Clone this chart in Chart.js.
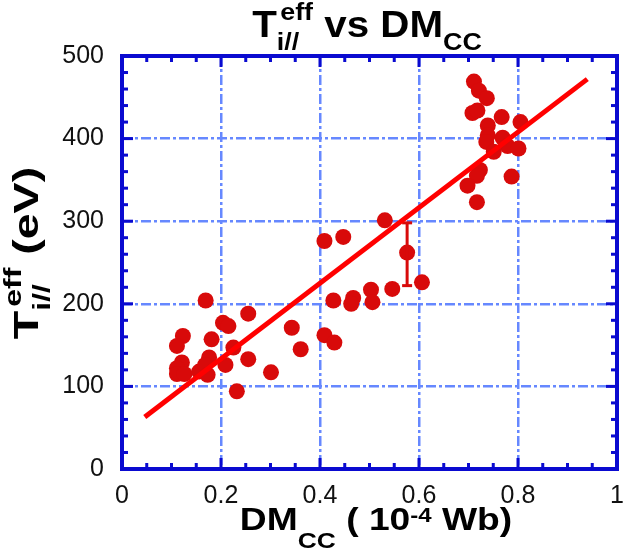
<!DOCTYPE html>
<html>
<head>
<meta charset="utf-8">
<script src="https://cdn.jsdelivr.net/npm/chart.js@4.4.0/dist/chart.umd.min.js"></script>
<style>
  html, body { margin: 0; padding: 0; background: #fff; }
</style>
</head>
<body>
<canvas id="chart" width="625" height="557"></canvas>
<script>
// measured points: DMcc (1e-4 Wb) and Ti// eff (eV)
var dmcc = [
  0.169, 0.255, 0.204, 0.215, 0.123, 0.181, 0.111, 0.343, 0.361, 0.225, 0.255,
  0.301, 0.232, 0.209, 0.176, 0.121, 0.111, 0.111, 0.126, 0.156, 0.168, 0.173,
  0.409, 0.447, 0.531, 0.576, 0.606, 0.546, 0.503, 0.506, 0.467, 0.463, 0.427,
  0.409, 0.429,
  0.711, 0.721, 0.737, 0.708, 0.718, 0.767, 0.739, 0.805, 0.739, 0.736, 0.769,
  0.779, 0.801, 0.751, 0.723, 0.717, 0.698, 0.787, 0.717
];
var tiEff = [
  204, 188, 177, 173, 161, 157, 149, 171, 145, 147, 133,
  117, 94, 126, 135, 129, 122, 115, 115, 118, 126, 114,
  276, 281, 301, 262, 226, 218, 217, 202, 207, 200, 204,
  162, 153,
  469, 458, 449, 431, 434, 426, 416, 420, 404, 396, 401,
  391, 388, 384, 362, 355, 343, 354, 323
];
// linear fit end points
var fitX = [0.046, 0.94];
var fitY = [63, 472];
// single error bar
var errX = [0.576, 0.576];
var errY = [222, 298];

var xTickLabels = ['0', '0.2', '0.4', '0.6', '0.8', '1'];
var yTickLabels = ['0', '100', '200', '300', '400', '500'];

var FONT = "'Liberation Sans', Arial, sans-serif";
var RED = '#d80a0a';
var FRAME = '#0a0ad0';
var GRID = '#6688ff';

function pts(xs, ys) {
  return xs.map(function (x, i) { return { x: x, y: ys[i] }; });
}

// rich text with sub/superscripts, centred on (0,0) of the current transform
function drawRich(ctx, segs) {
  var x = 0, items = [], prevStart = 0;
  segs.forEach(function (s) {
    ctx.font = 'bold ' + s.size + 'px ' + FONT;
    var w = ctx.measureText(s.t).width;
    var sx;
    if (s.stack) {
      sx = prevStart + (s.shift || 0);
      x = Math.max(x, sx + w);
    } else {
      sx = x;
      x += w;
    }
    items.push({ s: s, x: sx });
    prevStart = sx;
  });
  ctx.fillStyle = '#000';
  ctx.textAlign = 'left';
  ctx.textBaseline = 'alphabetic';
  items.forEach(function (it) {
    ctx.font = 'bold ' + it.s.size + 'px ' + FONT;
    ctx.fillText(it.s.t, it.x - x / 2, it.s.dy || 0);
  });
}

function drawFrame(chart) {
  var ctx = chart.ctx;
  var xs = chart.scales.x, ys = chart.scales.y;
  var left = xs.getPixelForValue(0), right = xs.getPixelForValue(1);
  var top = ys.getPixelForValue(500), bottom = ys.getPixelForValue(0);
  ctx.save();
  ctx.globalAlpha = 1;
  ctx.globalCompositeOperation = 'source-over';
  ctx.setTransform(1, 0, 0, 1, 0, 0);
  ctx.fillStyle = FRAME;
  var v, p, len;
  // inward ticks on all four sides
  for (v = 0; v <= 100; v += 5) {
    p = xs.getPixelForValue(v / 100);
    len = v % 20 === 0 ? 11 : 6;
    ctx.fillRect(p - 1.5, bottom - len, 3, len);
    ctx.fillRect(p - 1.5, top, 3, len);
  }
  for (v = 0; v <= 500; v += 20) {
    p = ys.getPixelForValue(v);
    len = v % 100 === 0 ? 11 : 6;
    ctx.fillRect(left, p - 1.5, len, 3);
    ctx.fillRect(right - len, p - 1.5, len, 3);
  }
  ctx.fillRect(left - 2, top - 2, right - left + 4, 4);
  ctx.fillRect(left - 2, bottom - 2, right - left + 4, 4);
  ctx.fillRect(left - 2, top - 2, 4, bottom - top + 4);
  ctx.fillRect(right - 2, top - 2, 4, bottom - top + 4);
  ctx.restore();
}

function drawTitles(chart) {
  var ctx = chart.ctx;
  ctx.save();
  ctx.save();
  ctx.translate(367, 37);
  ctx.scale(1.12, 1);
  drawRich(ctx, [
    { t: 'T', size: 36 },
    { t: 'i//', size: 24, dy: 13 },
    { t: 'eff', size: 24, dy: -17, stack: true, shift: 3 },
    { t: ' vs DM', size: 36 },
    { t: 'CC', size: 24, dy: 13 }
  ]);
  ctx.restore();

  ctx.save();
  ctx.translate(376, 530);
  ctx.scale(1.2, 1);
  drawRich(ctx, [
    { t: 'DM', size: 31 },
    { t: 'CC', size: 22, dy: 18 },
    { t: ' ( 10', size: 31 },
    { t: '-4', size: 20, dy: -8 },
    { t: ' Wb)', size: 31 }
  ]);
  ctx.restore();

  ctx.save();
  ctx.translate(38, 253);
  ctx.rotate(-Math.PI / 2);
  ctx.scale(1.33, 1);
  drawRich(ctx, [
    { t: 'T', size: 35 },
    { t: 'i//', size: 24, dy: 12 },
    { t: 'eff', size: 24, dy: -17, stack: true, shift: 3 },
    { t: ' (eV)', size: 35 }
  ]);
  ctx.restore();
  ctx.restore();
}

var framePlugin = {
  id: 'frame',
  afterDraw: function (chart) {
    drawFrame(chart);
    drawTitles(chart);
  }
};

var chart = new Chart(document.getElementById('chart'), {
  type: 'scatter',
  data: {
    datasets: [
      {
        type: 'line',
        label: 'fit',
        data: pts(fitX, fitY),
        borderColor: '#ff0000',
        borderWidth: 5,
        pointRadius: 0,
        order: 0
      },
      {
        type: 'line',
        label: 'error',
        data: pts(errX, errY),
        borderColor: RED,
        borderWidth: 3,
        pointStyle: 'line',
        pointRadius: 5,
        pointBorderWidth: 3,
        pointBorderColor: RED,
        order: 1
      },
      {
        label: 'data',
        data: pts(dmcc, tiEff),
        backgroundColor: RED,
        borderWidth: 0,
        pointRadius: 8,
        order: 2
      }
    ]
  },
  options: {
    responsive: false,
    animation: false,
    layout: { padding: { top: 56, right: 3, left: 0, bottom: 0 } },
    plugins: { legend: { display: false }, tooltip: { enabled: false } },
    scales: {
      x: {
        type: 'linear',
        min: 0,
        max: 1,
        ticks: {
          stepSize: 0.2,
          color: '#111',
          padding: 12,
          maxRotation: 0,
          font: { family: FONT, size: 25 },
          callback: function (v, i) { return xTickLabels[i]; }
        },
        grid: {
          drawTicks: false,
          lineWidth: 2.5,
          color: function (c) {
            return (c.tick && (c.tick.value === 0 || c.tick.value === 1)) ? 'rgba(0,0,0,0)' : GRID;
          }
        },
        border: { display: false, dash: [10, 3, 3, 3] },
        afterFit: function (s) { s.height = 88; s.paddingLeft = 0; s.paddingRight = 0; }
      },
      y: {
        type: 'linear',
        min: 0,
        max: 500,
        ticks: {
          stepSize: 100,
          color: '#111',
          padding: 18,
          font: { family: FONT, size: 25 },
          callback: function (v, i) { return yTickLabels[i]; }
        },
        grid: {
          drawTicks: false,
          lineWidth: 2.5,
          color: function (c) {
            return (c.tick && (c.tick.value === 0 || c.tick.value === 500)) ? 'rgba(0,0,0,0)' : GRID;
          }
        },
        border: { display: false, dash: [10, 3, 3, 3] },
        afterFit: function (s) { s.width = 122; s.paddingTop = 0; s.paddingBottom = 0; }
      }
    }
  },
  plugins: [framePlugin]
});
</script>
</body>
</html>
